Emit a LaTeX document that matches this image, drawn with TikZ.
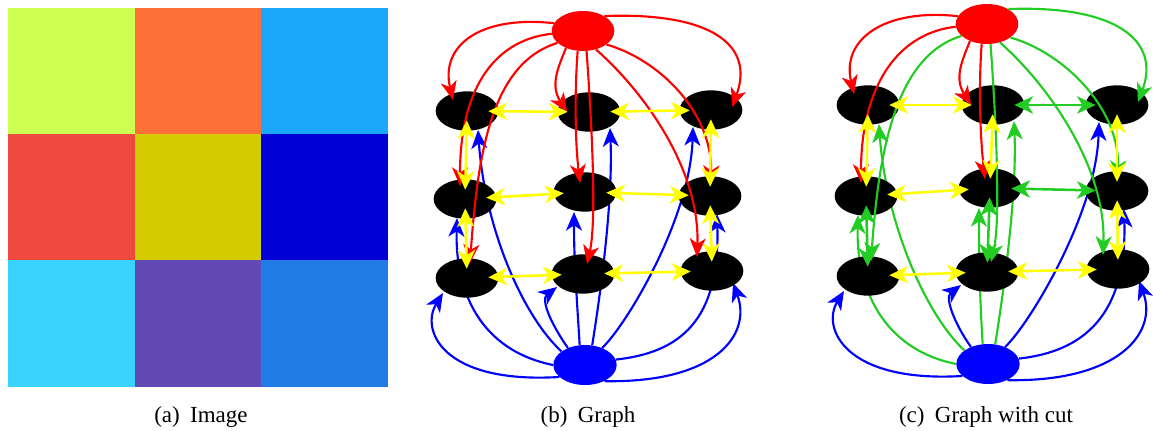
\documentclass[tikz,border=0pt]{standalone}
\usepackage{fontspec}
\setmainfont{Liberation Serif}
\usetikzlibrary{calc,arrows.meta,shapes.geometric}
\pgfdeclarelayer{edgelayer}
\pgfsetlayers{edgelayer,main}
\definecolor{tTL}{RGB}{204,255,82}
\definecolor{tTM}{RGB}{255,112,54}
\definecolor{tTR}{RGB}{27,168,250}
\definecolor{tML}{RGB}{240,74,64}
\definecolor{tMM}{RGB}{212,204,0}
\definecolor{tMR}{RGB}{0,0,214}
\definecolor{tBL}{RGB}{58,210,255}
\definecolor{tBM}{RGB}{98,74,180}
\definecolor{tBR}{RGB}{32,123,228}
\definecolor{ered}{RGB}{255,0,0}
\definecolor{eblue}{RGB}{0,0,255}
\definecolor{eyel}{RGB}{255,255,0}
\definecolor{egrn}{RGB}{34,204,34}
\tikzset{
  blk/.style={ellipse,fill=black,inner sep=0pt,minimum width=47pt,minimum height=29.5pt},
  srcn/.style={ellipse,fill=ered,inner sep=0pt,minimum width=47pt,minimum height=30pt},
  snkn/.style={ellipse,fill=eblue,inner sep=0pt,minimum width=47.5pt,minimum height=30pt},
  tipS/.tip={Stealth[length=14pt,width=12pt,inset=4pt]},
  tipN/.tip={Stealth[length=14pt,width=13pt,inset=4pt]},
  sedge/.style={line width=1.6pt,-tipS},
  nedge/.style={line width=1.9pt,tipN-tipN},
  captxt/.style={font=\fontsize{17.25pt}{20pt}\selectfont,anchor=base,inner sep=0pt},
}
% source edges
\newcommand\xSa[2]{\draw[sedge,color=#2] (#1S.165) .. controls +(-73,8) and +(-13,55) .. ($(#1a)+(-14,11)$);}
\newcommand\xSb[2]{\draw[sedge,color=#2] (#1S.225) .. controls +(-8,-20) and +(-17,27) .. ($(#1b)+(-22,0)$);}
\newcommand\xSc[2]{\draw[sedge,color=#2] (#1S.35) .. controls +(107,4) and +(23,62) .. ($(#1c)+(21,3)$);}
\newcommand\xSd[2]{\draw[sedge,color=#2] (#1S.185) .. controls +(-62,-7) and +(0,91) .. ($(#1d)+(-5,13)$);}
\newcommand\xSe[2]{\draw[sedge,color=#2] (#1S.255) .. controls +(-3,-40) and +(-5,43) .. ($(#1e)+(-5,9)$);}
\newcommand\xSf[2]{\draw[sedge,color=#2] (#1S.330) .. controls +(50,-14) and +(1,74) .. ($(#1f)+(1,12)$);}
\newcommand\xSg[2]{\draw[sedge,color=#2] (#1S.205) .. controls +(-65,-20) and +(8,113) .. ($(#1g)+(3,15)$);}
\newcommand\xSh[2]{\draw[sedge,color=#2] (#1S.280) .. controls +(5,-69) and +(10,44) .. ($(#1h)+(4,10)$);}
\newcommand\xSi[2]{\draw[sedge,color=#2] (#1S.305) .. controls +(49,-43) and +(3,87) .. ($(#1i)+(-15,14)$);}
% sink edges
\newcommand\xTa[2]{\draw[sedge,color=#2] (#1T.150) .. controls +(-38,35) and +(7,-100) .. ($(#1a)+(11,-19)$);}
\newcommand\xTb[2]{\draw[sedge,color=#2] (#1T.70) .. controls +(9,56) and +(3,-72) .. ($(#1b)+(21,-16)$);}
\newcommand\xTc[2]{\draw[sedge,color=#2] (#1T.45) .. controls +(23,21) and +(-3,-93) .. ($(#1c)+(-18,-17)$);}
\newcommand\xTd[2]{\draw[sedge,color=#2] (#1T.180) .. controls +(-74,15) and +(-2,-72) .. ($(#1d)+(-8,-19)$);}
\newcommand\xTe[2]{\draw[sedge,color=#2] (#1T.105) .. controls +(-3,50) and +(0,-50) .. ($(#1e)+(-11,-20)$);}
\newcommand\xTf[2]{\draw[sedge,color=#2] (#1T.10) .. controls +(65,7) and +(3,-106) .. ($(#1f)+(7,-18)$);}
\newcommand\xTg[2]{\draw[sedge,color=#2] (#1T.205) .. controls +(-117,-7) and +(-23,-37) .. ($(#1g)+(-24,-15)$);}
\newcommand\xTh[2]{\draw[sedge,color=#2] (#1T.135) .. controls +(-15,21) and +(-17,-13) .. ($(#1h)+(-26,-13)$);}
\newcommand\xTi[2]{\draw[sedge,color=#2] (#1T.320) .. controls +(111,-2) and +(19,-52) .. ($(#1i)+(21,-12)$);}
% neighbour edges
\newcommand\nH[4]{\draw[nedge,color=#4,shorten <=16pt,shorten >=16pt] (#1#2.center) -- (#1#3.center);}
\newcommand\nV[4]{\draw[nedge,color=#4,shorten <=7pt,shorten >=7pt] (#1#2.center) -- (#1#3.center);}
\begin{document}
\begin{tikzpicture}[x=0.75pt,y=0.75pt]
\useasboundingbox (0,0) rectangle (1153,-431);
% (a) image
\fill[tTL] (8,-8) rectangle (135,-134);
\fill[tTM] (135,-8) rectangle (261,-134);
\fill[tTR] (261,-8) rectangle (388,-134);
\fill[tML] (8,-134) rectangle (135,-260);
\fill[tMM] (135,-134) rectangle (261,-260);
\fill[tMR] (261,-134) rectangle (388,-260);
\fill[tBL] (8,-260) rectangle (135,-387);
\fill[tBM] (135,-260) rectangle (261,-387);
\fill[tBR] (261,-260) rectangle (388,-387);
\node[captxt] (capa) at (201,-422) {(a)\hspace{0.45em}Image};
% (b) graph
\node[srcn] (bS) at (583,-31) {};
\node[blk] (ba) at (467,-111) {};
\node[blk] (bb) at (589,-112) {};
\node[blk] (bc) at (711,-110) {};
\node[blk] (bd) at (465,-199) {};
\node[blk] (be) at (585,-192) {};
\node[blk] (bf) at (710,-196) {};
\node[blk] (bg) at (467,-278) {};
\node[blk] (bh) at (583,-274) {};
\node[blk] (bi) at (712,-271) {};
\node[snkn] (bT) at (585,-365) {};
\begin{pgfonlayer}{edgelayer}
\xTa{b}{eblue}\xTb{b}{eblue}\xTc{b}{eblue}\xTd{b}{eblue}\xTe{b}{eblue}
\xTf{b}{eblue}\xTg{b}{eblue}\xTh{b}{eblue}\xTi{b}{eblue}
\end{pgfonlayer}
\xSa{b}{ered}\xSb{b}{ered}\xSc{b}{ered}\xSd{b}{ered}\xSe{b}{ered}
\xSf{b}{ered}\xSg{b}{ered}\xSh{b}{ered}\xSi{b}{ered}
\nH{b}{a}{b}{eyel}\nH{b}{b}{c}{eyel}\nH{b}{d}{e}{eyel}
\nH{b}{e}{f}{eyel}\nH{b}{g}{h}{eyel}\nH{b}{h}{i}{eyel}
\nV{b}{a}{d}{eyel}\nV{b}{d}{g}{eyel}\nV{b}{c}{f}{eyel}\nV{b}{f}{i}{eyel}
\node[captxt] (capb) at (588,-422) {(b)\hspace{0.45em}Graph};
% (c) graph with cut
\node[srcn] (cS) at (987,-24) {};
\node[blk] (ca) at (868,-105) {};
\node[blk] (cb) at (993,-105) {};
\node[blk] (cc) at (1117,-105) {};
\node[blk] (cd) at (866,-196) {};
\node[blk] (ce) at (990,-188) {};
\node[blk] (cf) at (1117,-191) {};
\node[blk] (cg) at (868,-276) {};
\node[blk] (ch) at (987,-272) {};
\node[blk] (ci) at (1118,-269) {};
\node[snkn] (cT) at (988,-364) {};
\begin{pgfonlayer}{edgelayer}
\xTa{c}{egrn}\xTb{c}{egrn}\xTc{c}{eblue}\xTd{c}{egrn}\xTe{c}{egrn}
\xTf{c}{eblue}\xTg{c}{eblue}\xTh{c}{eblue}\xTi{c}{eblue}
\end{pgfonlayer}
\xSa{c}{ered}\xSb{c}{ered}\xSc{c}{egrn}\xSd{c}{ered}\xSe{c}{ered}
\xSf{c}{egrn}\xSg{c}{egrn}\xSh{c}{egrn}\xSi{c}{egrn}
\nH{c}{a}{b}{eyel}\nH{c}{b}{c}{egrn}\nH{c}{d}{e}{eyel}
\nH{c}{e}{f}{egrn}\nH{c}{g}{h}{eyel}\nH{c}{h}{i}{eyel}
\nV{c}{a}{d}{eyel}\nV{c}{d}{g}{egrn}\nV{c}{c}{f}{eyel}\nV{c}{f}{i}{eyel}
\nV{c}{b}{e}{eyel}\nV{c}{e}{h}{egrn}
\node[captxt] (capc) at (986,-422) {(c)\hspace{0.45em}Graph with cut};
\end{tikzpicture}
\end{document}
